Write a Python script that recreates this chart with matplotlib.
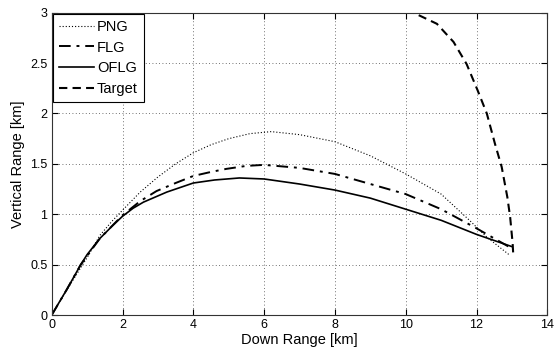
import matplotlib
matplotlib.use('Agg')
import matplotlib.pyplot as plt

plt.rcParams['font.family'] = ['Liberation Sans', 'DejaVu Sans']

# PNG (dotted)
png_x = [0, 0.5, 1.0, 1.36, 1.7, 2.0, 2.5, 3.0, 3.5, 4.0, 4.5, 5.0, 5.6, 6.2, 7.0, 8.0, 9.0, 10.0, 11.0, 11.8, 12.3, 12.95]
png_y = [0, 0.29, 0.57, 0.79, 0.93, 1.04, 1.22, 1.37, 1.50, 1.61, 1.69, 1.75, 1.80, 1.82, 1.79, 1.72, 1.58, 1.40, 1.20, 0.94, 0.77, 0.59]

# FLG (dash-dot)
flg_x = [0, 0.42, 0.82, 1.36, 2.0, 2.5, 2.96, 3.5, 4.0, 4.5, 4.93, 5.5, 6.0, 7.0, 8.0, 9.0, 10.0, 11.0, 12.0, 12.95]
flg_y = [0, 0.25, 0.50, 0.76, 0.99, 1.13, 1.23, 1.31, 1.38, 1.42, 1.45, 1.48, 1.49, 1.46, 1.40, 1.30, 1.20, 1.05, 0.86, 0.67]

# OFLG (solid)
oflg_x = [0, 0.2, 0.42, 0.82, 1.0, 1.36, 1.7, 2.0, 2.3, 2.59, 3.25, 4.0, 4.6, 5.3, 6.0, 7.0, 8.0, 9.0, 10.0, 11.0, 12.0, 12.99]
oflg_y = [0, 0.12, 0.25, 0.50, 0.60, 0.76, 0.88, 0.98, 1.06, 1.12, 1.22, 1.31, 1.34, 1.36, 1.35, 1.30, 1.24, 1.16, 1.05, 0.94, 0.80, 0.68]

# Target (dashed)
tgt_x = [10.0, 10.2, 10.4, 10.88, 11.35, 11.72, 12.03, 12.29, 12.52, 12.71, 12.87, 12.95, 13.02, 13.04]
tgt_y = [3.01, 3.0, 2.97, 2.89, 2.71, 2.49, 2.23, 2.0, 1.70, 1.47, 1.17, 0.97, 0.71, 0.58]

fig = plt.figure(figsize=(5.55, 3.53), dpi=100)
ax = fig.add_axes([0.0932, 0.1076, 0.893, 0.8564])

ax.plot(png_x, png_y, color='black', linestyle=(0, (1, 1.8)), linewidth=0.8, label='PNG')
ax.plot(flg_x, flg_y, color='black', linestyle=(0, (6, 3, 1.5, 3)), linewidth=1.4, label='FLG')
ax.plot(oflg_x, oflg_y, color='black', linestyle='-', linewidth=1.2, label='OFLG')
ax.plot(tgt_x, tgt_y, color='black', linestyle=(0, (4, 2.5)), linewidth=1.5, label='Target')

ax.set_xlim(0, 14)
ax.set_ylim(0, 3)
ax.set_xticks(range(0, 15, 2))
ax.set_yticks([0, 0.5, 1, 1.5, 2, 2.5, 3])
ax.set_yticklabels(['0', '0.5', '1', '1.5', '2', '2.5', '3'])
ax.grid(True, color='#444444', linestyle=(0, (1, 3)), linewidth=0.6)
ax.tick_params(direction='in', top=True, right=True, labelsize=9, length=4, pad=3)
for s in ax.spines.values():
    s.set_color('#333333')
    s.set_linewidth(0.8)

ax.set_xlabel('Down Range [km]', fontsize=10.5, labelpad=1)
ax.set_ylabel('Vertical Range [km]', fontsize=10.5, labelpad=4)

leg = ax.legend(loc='upper left', fontsize=10.5, fancybox=False, edgecolor='black',
                framealpha=1, borderaxespad=0.1, handlelength=2.4, handletextpad=0.2,
                labelspacing=0.45, borderpad=0.4)
leg.get_frame().set_linewidth(0.8)

fig.savefig('out.png', dpi=100)
